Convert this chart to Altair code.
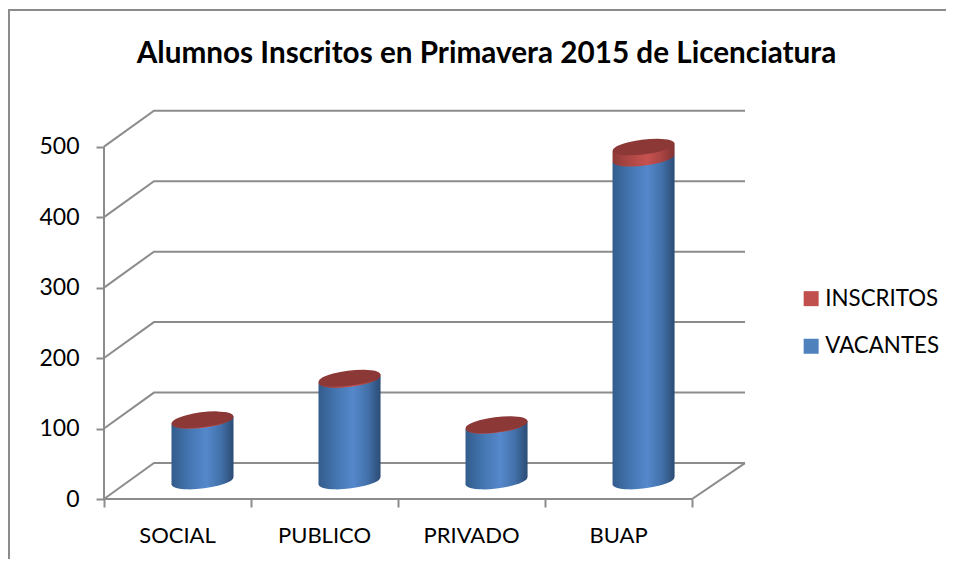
import altair as alt
import pandas as pd

categories = ["SOCIAL", "PUBLICO", "PRIVADO", "BUAP"]
vacantes = [86, 144, 79, 458]
inscritos = [1, 2, 1, 16]
y_ticks = [0, 100, 200, 300, 400, 500]
series_names = ["INSCRITOS", "VACANTES"]
series_colors = ["#C0504D", "#4F81BD"]

FONT = "Lato"
GRAY = "#8C8C8C"
DX, DY = 0.34, 51.0      # depth of the 3D box, in axis units
HALF = 0.211             # cylinder half width
TILT = 5.4               # slant of the cylinder's ellipses
XMAX, YMAX = 4.36, 552.0
ELLIPSE = "M-0.9925,0.122A1,0.24 -7 1,1 0.9925,-0.122A1,0.24 -7 1,1 -0.9925,0.122Z"
ESIZE = 62 ** 2


def grad(stops):
    return alt.LinearGradient(
        gradient="linear", x1=0, x2=1, y1=0, y2=0,
        stops=[alt.GradientStop(offset=o, color=c) for o, c in stops],
    )


BLUE = grad([(0, "#325C8C"), (0.3, "#4577B3"), (0.56, "#5588CC"), (0.8, "#4270A8"), (1, "#2C4C75")])
RED = grad([(0, "#8D3A38"), (0.3, "#B04845"), (0.56, "#C65250"), (0.8, "#A84442"), (1, "#7F3331")])

x_scale = alt.Scale(domain=[0, XMAX], nice=False, zero=False)
y_scale = alt.Scale(domain=[0, YMAX], nice=False, zero=False)
x_axis = alt.Axis(values=[0, 1, 2, 3, 4], labels=False, grid=False, domain=False,
                  tickColor=GRAY, tickWidth=2, tickSize=8, title=None)
y_axis = alt.Axis(values=y_ticks, grid=False, domain=False, tickColor=GRAY, tickWidth=2,
                  tickSize=8, labelFont=FONT, labelFontSize=23, labelColor="#000000",
                  labelPadding=17, format="d", title=None)


def X(f):
    return alt.X(f"{f}:Q", scale=x_scale, axis=x_axis)


def Y(f):
    return alt.Y(f"{f}:Q", scale=y_scale, axis=y_axis)


# box lines
box = []
for v in y_ticks:
    box += [dict(g=f"d{v}", x=0, y=v), dict(g=f"d{v}", x=DX, y=v + DY), dict(g=f"d{v}", x=XMAX, y=v + DY)]
box += [dict(g="front", x=0, y=0), dict(g="front", x=0, y=500)]
box += [dict(g="floor", x=0, y=0), dict(g="floor", x=4, y=0), dict(g="floor", x=XMAX, y=DY)]
lines = alt.Chart(pd.DataFrame(box)).mark_line(color=GRAY, strokeWidth=2, clip=False).encode(
    x=X("x"), y=Y("y"), detail="g:N")

# cylinders
cyl = pd.DataFrame({
    "c": [i + 0.5 + DX / 2 for i in range(4)],
    "base": [DY / 2] * 4,
    "mid": [v + DY / 2 for v in vacantes],
    "top": [v + s + DY / 2 for v, s in zip(vacantes, inscritos)],
})
sides = []
for i, r in cyl.iterrows():
    for sgn in (-1, 1):
        sides.append(dict(g=i, x=r.c + sgn * HALF, b0=r.base + sgn * TILT, b1=r.mid + sgn * TILT,
                          b2=r.top + sgn * TILT))
sides = pd.DataFrame(sides)


def ellipse(field, fill):
    return alt.Chart(cyl).mark_point(shape=ELLIPSE, size=ESIZE, filled=True, fill=fill, opacity=1,
                                     strokeWidth=0).encode(x=X("c"), y=Y(field))


def side(a, b, fill):
    return alt.Chart(sides).mark_area(fill=fill, orient="vertical", opacity=1).encode(
        x=X("x"), y=Y(b), y2=alt.Y2(f"{a}:Q"), detail="g:N")


labels = alt.Chart(pd.DataFrame({"name": categories, "x": [i + 0.5 for i in range(4)], "y": [0] * 4})).mark_text(
    font=FONT, fontSize=22, color="#000000", dy=37, baseline="middle", align="center"
).encode(x=X("x"), y=Y("y"), text="name:N")

legend = alt.Chart(pd.DataFrame({"s": series_names, "x": [0, 0], "y": [0, 0]})).mark_point(
    filled=True, size=0, opacity=0, shape="square"
).encode(
    x=X("x"), y=Y("y"),
    color=alt.Color("s:N", scale=alt.Scale(domain=series_names, range=series_colors),
                    legend=alt.Legend(title=None, orient="none", legendX=696, legendY=177.5,
                                      symbolType="square", symbolSize=225, symbolOpacity=1,
                                      symbolStrokeWidth=0, labelFont=FONT, labelFontSize=22.3,
                                      labelColor="#000000", rowPadding=24.6, labelOffset=3)),
)

frame_top = alt.Chart(pd.DataFrame({"a": [0]})).mark_rule(color=GRAY, strokeWidth=2).encode(
    x=alt.value(-96), x2=alt.value(842), y=alt.value(-100))
frame_left = alt.Chart(pd.DataFrame({"a": [0]})).mark_rule(color=GRAY, strokeWidth=2).encode(
    x=alt.value(-95), y=alt.value(-100), y2=alt.value(449))

chart = alt.layer(
    frame_top, frame_left, lines,
    ellipse("base", BLUE), side("b0", "b1", BLUE),
    ellipse("mid", RED), side("b1", "b2", RED),
    ellipse("top", "#8C3836"),
    labels, legend,
).properties(
    width=641, height=389,
    padding={"left": 96, "top": 102, "right": 201, "bottom": 60},
    autosize=alt.AutoSizeParams(type="none"),
    title=alt.TitleParams("Alumnos Inscritos en Primavera 2015 de Licenciatura", font=FONT, fontSize=29.7,
                          fontWeight="bold", color="#000000", anchor="middle", dx=62, offset=-61),
    background="#FFFFFF",
).configure_view(stroke=None)

chart.save("out.html", embed_options={"renderer": "svg", "actions": False})
